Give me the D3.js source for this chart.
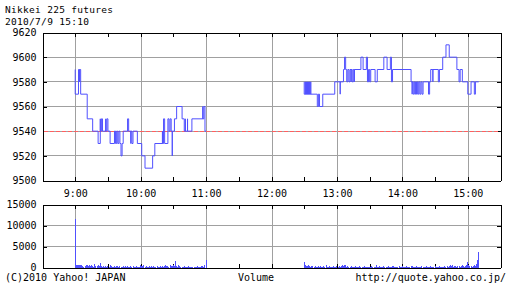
<!DOCTYPE html>
<html>
<head>
<meta charset="utf-8">
<script src="https://cdn.jsdelivr.net/npm/d3@7"></script>
<style>
  body { margin: 0; background: #fff; }
  text { font-family: "DejaVu Sans Mono", monospace; font-size: 10px; fill: #000; }
</style>
</head>
<body>
<div id="chart"></div>
<script>
// Data
const titleLines = ['Nikkei 225 futures', '2010/7/9 15:10']
const priceTicks = [9500, 9520, 9540, 9560, 9580, 9600, 9620]
const volumeTicks = [0, 5000, 10000, 15000]
const hourLabels = ['9:00', '10:00', '11:00', '12:00', '13:00', '14:00', '15:00']
const prevClose = 9540

// price changes, minutes after 9:00
const amMinutes = [0, 0.6, 3.5, 4, 4.5, 5, 11, 11.5, 16.5, 21, 23, 23.5, 24.5, 25, 28, 28.5, 29.5, 30, 32, 36, 37, 38, 39, 40, 41, 42, 43.5, 44, 48, 49.5, 51, 51.5, 52.5, 53, 57, 61, 64, 71, 73, 80, 80.5, 81, 82, 85, 86, 87, 88, 89, 89.5, 91, 93, 98, 100, 101, 101.5, 103, 103.5, 107, 117, 117.5, 118, 119.5, 120]
const amPrices = [9590, 9570, 9590, 9580, 9590, 9570, 9560, 9550, 9540, 9530, 9550, 9540, 9550, 9540, 9550, 9540, 9550, 9540, 9530, 9540, 9530, 9540, 9530, 9540, 9530, 9520, 9530, 9540, 9550, 9540, 9530, 9540, 9530, 9540, 9530, 9520, 9510, 9520, 9530, 9540, 9530, 9550, 9530, 9550, 9540, 9550, 9540, 9520, 9540, 9550, 9560, 9550, 9540, 9550, 9540, 9550, 9540, 9550, 9560, 9550, 9560, 9540, 9540]

// price changes, minutes after 12:00
const pmMinutes = [30, 30.5, 31, 31.5, 32, 32.5, 33, 33.5, 34, 34.5, 35, 35.5, 36, 36.5, 42, 43.5, 44.5, 47.5, 58, 63, 63.5, 66, 67, 68, 69, 70, 71.5, 72, 73, 73.5, 74.5, 75, 76, 76.5, 82, 84, 87, 88, 89, 90, 91, 95, 97, 103, 106, 109, 110, 111, 128.5, 129, 129.5, 130, 131, 132, 133, 134, 135, 136, 137, 138, 139, 140, 144, 145, 146, 148, 148.5, 153, 154, 157, 160, 163, 170, 172, 173, 175, 180, 183, 186, 187, 190]
const pmPrices = [9580, 9570, 9580, 9570, 9580, 9570, 9580, 9570, 9580, 9570, 9580, 9570, 9580, 9570, 9560, 9570, 9560, 9570, 9580, 9570, 9580, 9590, 9600, 9590, 9580, 9590, 9580, 9590, 9580, 9590, 9580, 9590, 9580, 9590, 9600, 9590, 9600, 9580, 9590, 9580, 9590, 9580, 9590, 9600, 9590, 9600, 9580, 9590, 9580, 9570, 9580, 9570, 9580, 9570, 9580, 9570, 9580, 9570, 9580, 9570, 9580, 9580, 9570, 9580, 9590, 9580, 9590, 9580, 9590, 9600, 9610, 9600, 9590, 9580, 9590, 9580, 9570, 9580, 9570, 9580, 9580]

// volume per minute, 9:00 - 11:00
const amVolume = [
  11500, 700, 600, 700, 500, 700, 700, 300, 200, 300,
  600, 700, 400, 700, 300, 600, 300, 200, 800, 400,
  300, 500, 400, 1000, 300, 200, 300, 100, 300, 200,
  400, 200, 600, 300, 200, 100, 300, 200, 400, 300,
  200, 300, 100, 200, 300, 200, 400, 200, 300, 100,
  200, 300, 200, 400, 200, 100, 300, 200, 100, 200,
  500, 400, 300, 500, 200, 300, 200, 100, 300, 200,
  400, 200, 300, 100, 200, 300, 200, 100, 400, 200,
  300, 200, 300, 500, 300, 400, 200, 500, 400, 300,
  600, 400, 1500, 300, 200, 700, 300, 200, 100, 200,
  300, 100, 200, 100, 300, 200, 100, 200, 100, 100,
  200, 100, 300, 200, 100, 200, 300, 400, 200, 700,
  1700]
// volume per minute, 12:30 - 15:10
const pmVolume = [
  1200, 500, 400, 300, 500, 300, 200, 400, 300, 200,
  300, 200, 100, 400, 200, 300, 100, 200, 300, 200,
  500, 200, 100, 300, 200, 100, 200, 300, 100, 200,
  300, 200, 400, 200, 300, 600, 300, 600, 500, 200,
  300, 200, 100, 300, 200, 100, 200, 300, 200, 100,
  200, 300, 100, 200, 100, 300, 200, 100, 200, 100,
  200, 100, 300, 200, 100, 200, 500, 200, 100, 300,
  200, 100, 200, 300, 100, 200, 100, 300, 200, 100,
  200, 300, 400, 200, 100, 200, 100, 300, 200, 100,
  300, 200, 100, 200, 300, 100, 200, 100, 300, 400,
  200, 100, 200, 300, 100, 200, 100, 200, 300, 100,
  200, 100, 300, 200, 100, 200, 400, 100, 200, 100,
  300, 200, 100, 200, 300, 100, 200, 100, 200, 300,
  200, 300, 100, 400, 500, 300, 600, 200, 400, 300,
  200, 300, 400, 200, 300, 500, 300, 200, 400, 600,
  1200, 700, 400, 300, 200, 300, 500, 400, 900, 1800,
  3800]

// Dimensions
const width = 512
const height = 288
const blue = '#5050ff'
const grid = '#a0a0a0'

const at = m => new Date(2010, 6, 9, 0, m)   // minutes from midnight
const hourDates = hourLabels.map(h => { const [hh, mm] = h.split(':'); return at(+hh * 60 + +mm) })
const halfHours = d3.range(9 * 60, 15 * 60 + 1, 30).map(at)

const svg = d3.select('#chart')
  .append('svg')
  .attr('width', width)
  .attr('height', height)

const xScale = d3.scaleTime()
  .domain([at(8 * 60 + 30), at(15 * 60 + 30)])
  .range([42.5, 500.5])
const yPrice = d3.scaleLinear()
  .domain([9500, 9620])
  .range([180.5, 32.5])
const yVol = d3.scaleLinear()
  .domain([0, 15000])
  .range([267.5, 204.5])

// Title (two lines, tight leading like the original)
svg.selectAll('.title')
  .data(titleLines)
  .join('text')
  .attr('class', 'title')
  .attr('x', 5)
  .attr('y', (d, i) => 13 + i * 12)
  .style('font-size', '9.5px')
  .attr('letter-spacing', 0.3)
  .text(d => d)

function panel(yScale, ticks, fmt) {
  const [y0, y1] = yScale.range()
  const g = svg.append('g').attr('shape-rendering', 'crispEdges')

  // grid
  g.selectAll('.hgrid')
    .data(ticks.slice(1, -1))
    .join('line')
    .attr('x1', xScale.range()[0]).attr('x2', xScale.range()[1])
    .attr('y1', d => yScale(d)).attr('y2', d => yScale(d))
    .attr('stroke', grid)
  g.selectAll('.vgrid')
    .data(hourDates)
    .join('line')
    .attr('x1', d => Math.round(xScale(d)) + 0.5).attr('x2', d => Math.round(xScale(d)) + 0.5)
    .attr('y1', y1).attr('y2', y0)
    .attr('stroke', grid)

  // axes, ticks pointing inward
  const left = d3.axisLeft(yScale).tickValues(ticks).tickSizeInner(-4).tickSizeOuter(0).tickPadding(6).tickFormat(fmt)
  const right = d3.axisRight(yScale).tickValues(ticks).tickSizeInner(-4).tickSizeOuter(0).tickFormat('')
  const top = d3.axisTop(xScale).tickValues(halfHours).tickSizeInner(-4).tickSizeOuter(0).tickFormat('')
  const bottom = d3.axisBottom(xScale).tickValues(halfHours).tickSizeInner(-4).tickSizeOuter(0).tickFormat('')

  g.append('g').attr('transform', `translate(${xScale.range()[0]},0)`).call(left)
  g.append('g').attr('transform', `translate(${xScale.range()[1]},0)`).call(right)
  g.append('g').attr('transform', `translate(0,${y1})`).call(top)
  g.append('g').attr('transform', `translate(0,${y0})`).call(bottom)
  g.selectAll('.domain').attr('stroke', '#000')
  g.selectAll('.tick line').attr('stroke', '#000')
  g.selectAll('.tick text').attr('font-family', '"DejaVu Sans Mono", monospace').attr('font-size', 10).attr('fill', '#000')
  return g
}

const priceG = panel(yPrice, priceTicks, d3.format('d'))

// previous close
priceG.append('line')
  .attr('x1', xScale.range()[0] + 1).attr('x2', xScale.range()[1] - 1)
  .attr('y1', yPrice(prevClose)).attr('y2', yPrice(prevClose))
  .attr('stroke', '#ff6060')
  .attr('stroke-dasharray', '4,2')

// price lines
const priceLine = d3.line()
  .x(d => xScale(d[0]))
  .y(d => yPrice(d[1]))
  .curve(d3.curveStepAfter)

const amData = amMinutes.map((m, i) => [at(9 * 60 + m), amPrices[i]])
const pmData = pmMinutes.map((m, i) => [at(12 * 60 + m), pmPrices[i]])

svg.selectAll('.price')
  .data([amData, pmData])
  .join('path')
  .attr('class', 'price')
  .attr('d', priceLine)
  .attr('fill', 'none')
  .attr('stroke', blue)
  .attr('stroke-width', 1)

// hour labels
svg.append('g')
  .attr('transform', 'translate(0,184)')
  .call(d3.axisBottom(xScale).tickValues(hourDates).tickSize(0).tickPadding(6).tickFormat((d, i) => hourLabels[i]))
  .call(g => g.select('.domain').remove())
  .selectAll('text')
  .attr('font-family', '"DejaVu Sans Mono", monospace').attr('font-size', 10).attr('fill', '#000')

// volume panel
panel(yVol, volumeTicks, d3.format('d'))

const volData = amVolume.map((v, i) => [at(9 * 60 + i), v])
  .concat(pmVolume.map((v, i) => [at(12 * 60 + 30 + i), v]))

svg.append('g')
  .attr('shape-rendering', 'crispEdges')
  .selectAll('rect')
  .data(volData)
  .join('rect')
  .attr('x', d => Math.floor(xScale(d[0])))
  .attr('width', 1)
  .attr('y', d => yVol(d[1]))
  .attr('height', d => yVol(0) - yVol(d[1]))
  .attr('fill', blue)

// footer
svg.append('text').attr('x', 5).attr('y', 281).text('(C)2010 Yahoo! JAPAN')
svg.append('text').attr('x', 256).attr('y', 281).attr('text-anchor', 'middle').text('Volume')
svg.append('text').attr('x', 506).attr('y', 281).attr('text-anchor', 'end').text('http://quote.yahoo.co.jp/')
</script>
</body>
</html>
